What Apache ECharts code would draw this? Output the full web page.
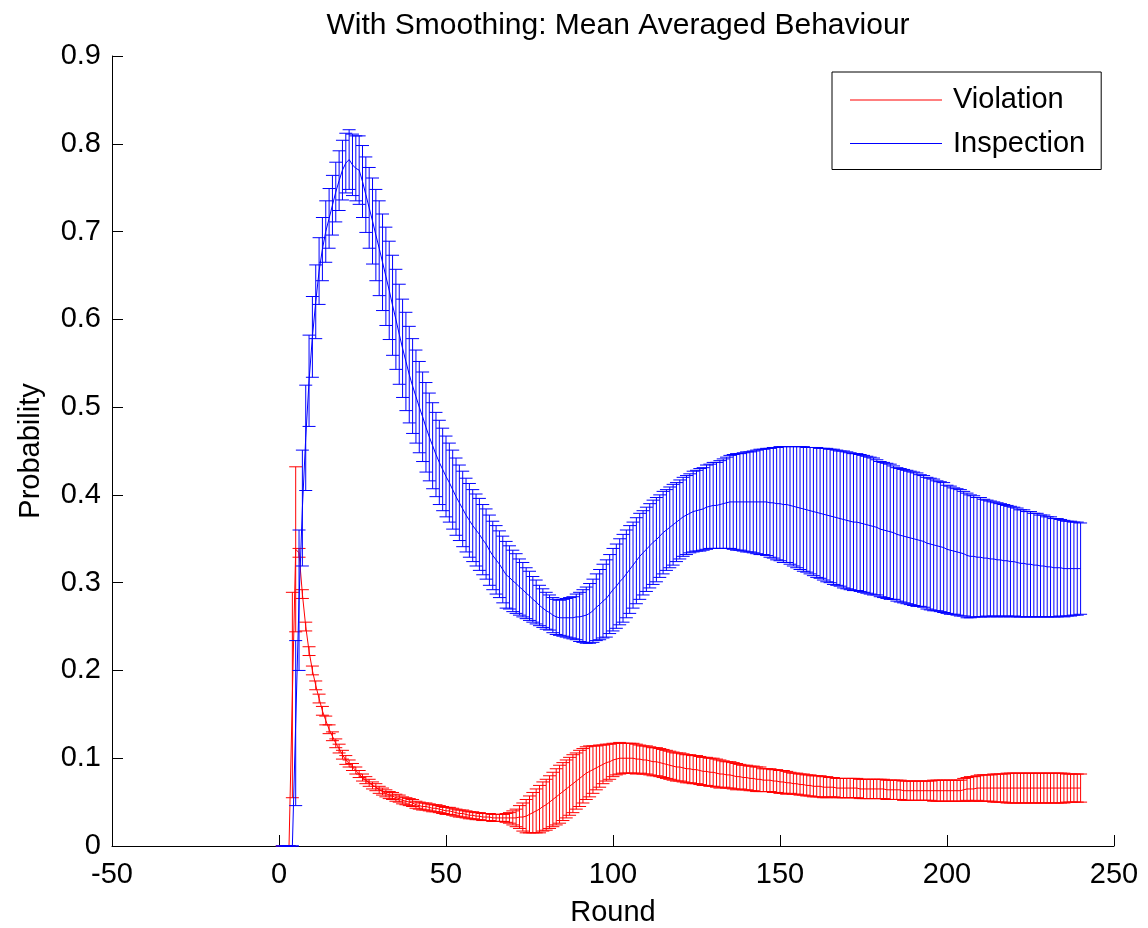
<!DOCTYPE html>
<html>
<head>
<meta charset="utf-8">
<script src="https://cdn.jsdelivr.net/npm/echarts@6/dist/echarts.min.js"></script>
<style>
html,body{margin:0;padding:0;background:#fff;}
#chart{width:1148px;height:928px;}
</style>
</head>
<body>
<div id="chart"></div>
<script>
const titleText = 'With Smoothing: Mean Averaged Behaviour';
const xName = 'Round';
const yName = 'Probability';
const seriesNames = ['Violation', 'Inspection'];
const firstRound = 1;

const violMean = [
0,0,0,0.172,0.338,0.334,0.287,0.250,0.222,0.200,
0.183,0.168,0.154,0.143,0.133,0.125,0.117,0.111,0.104,0.098,
0.094,0.090,0.086,0.082,0.078,0.075,0.072,0.069,0.067,0.064,
0.062,0.060,0.058,0.057,0.055,0.054,0.052,0.051,0.050,0.049,
0.047,0.046,0.045,0.045,0.044,0.043,0.043,0.042,0.041,0.040,
0.040,0.039,0.038,0.037,0.037,0.036,0.035,0.035,0.034,0.034,
0.033,0.033,0.033,0.032,0.032,0.032,0.032,0.032,0.032,0.032,
0.032,0.033,0.033,0.034,0.036,0.038,0.040,0.042,0.045,0.047,
0.050,0.053,0.056,0.059,0.062,0.065,0.068,0.071,0.074,0.077,
0.080,0.083,0.085,0.087,0.089,0.091,0.093,0.095,0.096,0.098,
0.099,0.100,0.100,0.100,0.100,0.100,0.099,0.099,0.098,0.098,
0.097,0.096,0.096,0.095,0.094,0.093,0.092,0.091,0.090,0.090,
0.089,0.088,0.088,0.087,0.087,0.086,0.085,0.085,0.084,0.084,
0.083,0.082,0.082,0.081,0.081,0.080,0.079,0.079,0.078,0.078,
0.077,0.077,0.076,0.076,0.075,0.075,0.075,0.074,0.074,0.073,
0.073,0.072,0.072,0.071,0.071,0.070,0.070,0.069,0.069,0.068,
0.068,0.068,0.067,0.067,0.067,0.067,0.066,0.066,0.066,0.066,
0.066,0.066,0.066,0.065,0.065,0.065,0.065,0.065,0.065,0.065,
0.065,0.064,0.064,0.064,0.064,0.064,0.063,0.063,0.063,0.063,
0.063,0.063,0.063,0.063,0.063,0.063,0.063,0.063,0.063,0.063,
0.063,0.063,0.063,0.063,0.064,0.065,0.065,0.065,0.066,0.066,
0.066,0.066,0.066,0.066,0.066,0.066,0.066,0.066,0.066,0.066,
0.066,0.066,0.066,0.066,0.066,0.066,0.066,0.066,0.066,0.066,
0.066,0.066,0.066,0.066,0.066,0.066,0.066,0.066,0.066,0.066
];
const violErr = [
0,0,0,0.117,0.094,0.005,0.005,0.005,0.005,0.005,
0.005,0.005,0.005,0.005,0.005,0.005,0.005,0.005,0.005,0.005,
0.004,0.004,0.004,0.004,0.004,0.004,0.004,0.004,0.004,0.004,
0.004,0.004,0.004,0.004,0.004,0.004,0.004,0.004,0.004,0.004,
0.004,0.004,0.004,0.004,0.004,0.004,0.004,0.004,0.004,0.004,
0.004,0.004,0.004,0.004,0.004,0.004,0.004,0.004,0.004,0.004,
0.004,0.004,0.004,0.004,0.004,0.004,0.004,0.005,0.006,0.008,
0.010,0.013,0.016,0.019,0.021,0.023,0.025,0.027,0.028,0.029,
0.030,0.031,0.032,0.033,0.033,0.033,0.033,0.033,0.032,0.032,
0.031,0.030,0.029,0.027,0.025,0.024,0.022,0.021,0.020,0.019,
0.018,0.018,0.017,0.017,0.017,0.017,0.017,0.016,0.016,0.016,
0.016,0.016,0.016,0.016,0.016,0.016,0.016,0.016,0.016,0.016,
0.016,0.016,0.016,0.016,0.016,0.016,0.016,0.016,0.016,0.016,
0.016,0.016,0.015,0.015,0.015,0.015,0.015,0.014,0.014,0.014,
0.014,0.014,0.014,0.014,0.013,0.013,0.013,0.013,0.013,0.013,
0.013,0.013,0.012,0.012,0.012,0.012,0.012,0.012,0.012,0.012,
0.012,0.012,0.012,0.012,0.011,0.011,0.011,0.011,0.011,0.011,
0.011,0.011,0.011,0.011,0.011,0.011,0.011,0.011,0.011,0.011,
0.011,0.011,0.011,0.011,0.011,0.011,0.011,0.011,0.011,0.011,
0.011,0.011,0.011,0.011,0.011,0.012,0.012,0.012,0.012,0.012,
0.012,0.012,0.012,0.012,0.013,0.013,0.014,0.014,0.014,0.015,
0.015,0.015,0.015,0.016,0.016,0.016,0.016,0.017,0.017,0.017,
0.017,0.017,0.017,0.017,0.017,0.017,0.017,0.017,0.017,0.017,
0.017,0.017,0.017,0.017,0.017,0.016,0.016,0.016,0.016,0.016
];
const inspMean = [
0,0,0,0,0.14,0.28,0.385,0.465,0.53,0.58,
0.62,0.655,0.68,0.70,0.715,0.73,0.745,0.758,0.77,0.778,
0.782,0.776,0.772,0.770,0.757,0.742,0.727,0.712,0.696,0.681,
0.665,0.649,0.633,0.616,0.600,0.583,0.567,0.552,0.537,0.524,
0.512,0.500,0.489,0.477,0.466,0.456,0.446,0.437,0.429,0.421,
0.414,0.406,0.398,0.391,0.384,0.377,0.371,0.365,0.360,0.355,
0.349,0.344,0.337,0.331,0.326,0.321,0.315,0.309,0.306,0.302,
0.299,0.295,0.292,0.288,0.285,0.281,0.278,0.274,0.271,0.268,
0.266,0.263,0.261,0.260,0.260,0.260,0.260,0.260,0.261,0.261,
0.262,0.263,0.265,0.268,0.272,0.275,0.279,0.282,0.287,0.292,
0.296,0.301,0.305,0.310,0.315,0.320,0.325,0.330,0.334,0.338,
0.342,0.346,0.349,0.353,0.357,0.360,0.363,0.366,0.369,0.372,
0.375,0.377,0.379,0.381,0.382,0.383,0.384,0.386,0.387,0.388,
0.388,0.389,0.390,0.391,0.392,0.392,0.392,0.392,0.392,0.392,
0.392,0.392,0.392,0.392,0.392,0.392,0.391,0.391,0.390,0.390,
0.389,0.389,0.388,0.387,0.386,0.385,0.384,0.383,0.382,0.381,
0.380,0.379,0.378,0.377,0.376,0.375,0.374,0.373,0.372,0.371,
0.370,0.369,0.369,0.368,0.367,0.366,0.365,0.364,0.363,0.361,
0.360,0.359,0.358,0.357,0.355,0.354,0.353,0.352,0.351,0.350,
0.349,0.348,0.347,0.345,0.344,0.343,0.342,0.341,0.340,0.338,
0.337,0.336,0.335,0.334,0.333,0.331,0.330,0.330,0.329,0.329,
0.328,0.328,0.327,0.327,0.326,0.326,0.325,0.325,0.324,0.324,
0.323,0.322,0.322,0.321,0.321,0.320,0.320,0.319,0.319,0.318,
0.318,0.317,0.317,0.317,0.316,0.316,0.316,0.316,0.316,0.316
];
const inspErr = [
0,0,0,0,0.094,0.080,0.066,0.060,0.052,0.046,
0.042,0.038,0.036,0.035,0.034,0.034,0.034,0.034,0.034,0.034,
0.034,0.035,0.037,0.039,0.041,0.043,0.046,0.049,0.052,0.054,
0.055,0.056,0.056,0.057,0.057,0.057,0.056,0.056,0.055,0.054,
0.053,0.052,0.051,0.051,0.050,0.049,0.048,0.048,0.047,0.046,
0.045,0.045,0.044,0.043,0.043,0.042,0.042,0.041,0.041,0.041,
0.040,0.040,0.040,0.039,0.039,0.038,0.038,0.038,0.036,0.035,
0.034,0.032,0.031,0.029,0.028,0.026,0.025,0.023,0.022,0.021,
0.020,0.020,0.020,0.020,0.021,0.022,0.023,0.024,0.026,0.028,
0.030,0.032,0.034,0.036,0.038,0.040,0.042,0.044,0.045,0.047,
0.048,0.049,0.050,0.050,0.050,0.049,0.049,0.049,0.048,0.048,
0.048,0.048,0.048,0.047,0.047,0.046,0.046,0.046,0.045,0.045,
0.045,0.045,0.045,0.046,0.046,0.047,0.047,0.048,0.048,0.049,
0.049,0.050,0.051,0.052,0.053,0.054,0.055,0.055,0.056,0.057,
0.057,0.058,0.059,0.060,0.060,0.061,0.062,0.063,0.064,0.065,
0.066,0.066,0.067,0.068,0.069,0.070,0.071,0.071,0.072,0.073,
0.074,0.074,0.075,0.076,0.076,0.077,0.077,0.077,0.078,0.078,
0.078,0.078,0.078,0.078,0.078,0.078,0.078,0.078,0.077,0.077,
0.077,0.077,0.077,0.076,0.076,0.076,0.076,0.076,0.076,0.076,
0.076,0.075,0.075,0.075,0.075,0.075,0.074,0.074,0.074,0.073,
0.073,0.072,0.072,0.072,0.071,0.071,0.070,0.069,0.068,0.068,
0.067,0.066,0.066,0.065,0.065,0.064,0.064,0.063,0.063,0.062,
0.062,0.061,0.061,0.060,0.060,0.059,0.059,0.058,0.058,0.057,
0.057,0.056,0.056,0.055,0.055,0.054,0.054,0.053,0.053,0.052
];

const rounds = inspMean.map((_, i) => firstRound + i);
const RED = '#ff0000', BLUE = '#0000ff';
const FONT = "'Liberation Sans', Arial, Helvetica, sans-serif";
const FS = 29;

function errRender(color) {
  return function (params, api) {
    const x = api.value(0), m = api.value(1), e = api.value(2);
    const top = api.coord([x, m + e]);
    const bot = api.coord([x, m - e]);
    const hw = 6.5;
    const st = { stroke: color, lineWidth: 1 };
    return {
      type: 'group',
      children: [
        { type: 'line', shape: { x1: top[0], y1: top[1], x2: bot[0], y2: bot[1] }, style: st },
        { type: 'line', shape: { x1: top[0] - hw, y1: top[1], x2: top[0] + hw, y2: top[1] }, style: st },
        { type: 'line', shape: { x1: bot[0] - hw, y1: bot[1], x2: bot[0] + hw, y2: bot[1] }, style: st }
      ]
    };
  };
}

const chart = echarts.init(document.getElementById('chart'), null, { renderer: 'canvas' });
chart.setOption({
  animation: false,
  backgroundColor: '#ffffff',
  textStyle: { fontFamily: FONT, color: '#000' },
  title: {
    text: titleText, left: 613, top: 6, textAlign: 'center',
    textStyle: { fontFamily: FONT, fontSize: 30, fontWeight: 'normal', color: '#000' }
  },
  legend: {
    orient: 'vertical', left: 832, top: 72,
    padding: [11, 16, 9, 18],
    itemGap: 9.5,
    itemWidth: 92, itemHeight: 1,
    borderColor: '#000', borderWidth: 1, backgroundColor: '#fff',
    textStyle: { fontFamily: FONT, fontSize: FS, color: '#000', lineHeight: 30, padding: [4, 0, 0, 6] },
    data: [
      { name: seriesNames[0], icon: 'rect', itemStyle: { color: RED } },
      { name: seriesNames[1], icon: 'rect', itemStyle: { color: BLUE } }
    ]
  },
  grid: { left: 112, right: 34, top: 56, bottom: 82, outerBoundsMode: 'none', containLabel: false },
  xAxis: {
    type: 'value', min: -50, max: 250, interval: 50,
    name: xName, nameLocation: 'middle', nameGap: 52,
    nameTextStyle: { fontFamily: FONT, fontSize: FS, color: '#000' },
    axisLine: { show: true, onZero: false, lineStyle: { color: '#000', width: 1 } },
    axisTick: { show: true, inside: true, length: 11, lineStyle: { color: '#000' } },
    axisLabel: { fontFamily: FONT, fontSize: FS, color: '#000', margin: 14 },
    splitLine: { show: false }
  },
  yAxis: {
    type: 'value', min: 0, max: 0.9, interval: 0.1,
    name: yName, nameLocation: 'middle', nameGap: 67, nameRotate: 90,
    nameTextStyle: { fontFamily: FONT, fontSize: FS, color: '#000' },
    axisLine: { show: true, onZero: false, lineStyle: { color: '#000', width: 1 } },
    axisTick: { show: true, inside: true, length: 11, lineStyle: { color: '#000' } },
    axisLabel: { fontFamily: FONT, fontSize: FS, color: '#000', margin: 11 },
    splitLine: { show: false }
  },
  series: [
    {
      name: 'violErr', type: 'custom', renderItem: errRender(RED),
      itemStyle: { color: RED },
      encode: { x: 0, y: 1 },
      data: rounds.map((r, i) => [r, violMean[i], violErr[i]]),
      z: 1
    },
    {
      name: seriesNames[0], type: 'line', showSymbol: false, symbol: 'none',
      itemStyle: { color: RED }, lineStyle: { color: RED, width: 1 },
      data: rounds.map((r, i) => [r, violMean[i]]),
      z: 2
    },
    {
      name: 'inspErr', type: 'custom', renderItem: errRender(BLUE),
      itemStyle: { color: BLUE },
      encode: { x: 0, y: 1 },
      data: rounds.map((r, i) => [r, inspMean[i], inspErr[i]]),
      z: 3
    },
    {
      name: seriesNames[1], type: 'line', showSymbol: false, symbol: 'none',
      itemStyle: { color: BLUE }, lineStyle: { color: BLUE, width: 1 },
      data: rounds.map((r, i) => [r, inspMean[i]]),
      z: 4
    }
  ]
});
</script>
</body>
</html>
